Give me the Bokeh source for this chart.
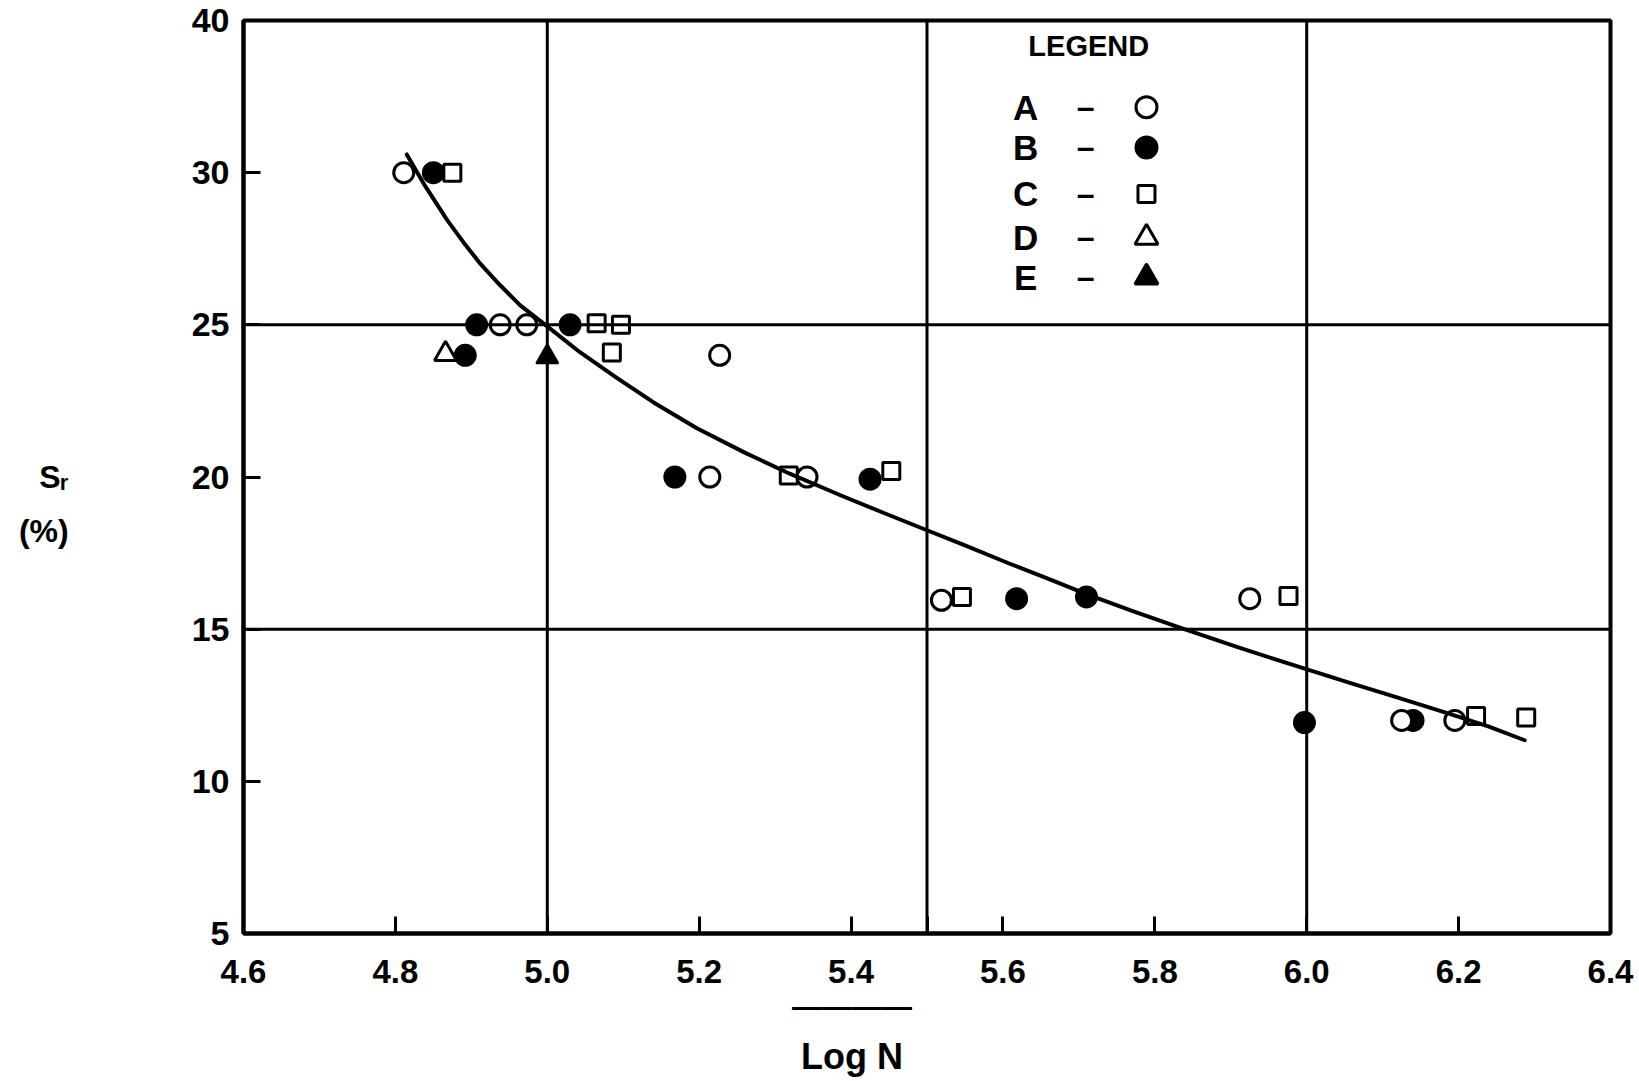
from bokeh.plotting import figure
from bokeh.models import Span, Label, FixedTicker, LinearAxis
from bokeh.embed import file_html
from bokeh.resources import INLINE

# ---------------- data ----------------
a_x = [4.811, 4.938, 4.973, 5.227, 5.214, 5.342, 5.519, 5.925, 6.125, 6.195]
a_y = [30.0, 25.0, 25.0, 24.0, 20.0, 20.0, 15.95, 16.0, 12.0, 12.0]

b_x = [4.850, 4.907, 5.030, 4.892, 5.168, 5.425, 5.618, 5.710, 5.997, 6.140]
b_y = [30.0, 25.0, 25.0, 24.0, 20.0, 19.93, 16.0, 16.06, 11.93, 12.0]

c_x = [4.875, 5.065, 5.097, 5.085, 5.318, 5.453, 5.546, 5.976, 6.223, 6.289]
c_y = [30.0, 25.05, 25.0, 24.09, 20.05, 20.2, 16.06, 16.09, 12.15, 12.1]

d_x = [4.866]
d_y = [24.04]

e_x = [5.000]
e_y = [23.95]

curve_x = [4.815, 4.837, 4.868, 4.890, 4.912, 4.938, 4.964, 5.000, 5.043, 5.092,
           5.140, 5.197, 5.260, 5.320, 5.386, 5.440, 5.495, 5.550, 5.609, 5.660,
           5.710, 5.770, 5.833, 5.910, 5.991, 6.061, 6.120, 6.184, 6.240, 6.287]
curve_y = [30.6, 29.65, 28.45, 27.7, 27.0, 26.3, 25.65, 24.95, 24.1, 23.25,
           22.45, 21.6, 20.8, 20.1, 19.4, 18.85, 18.3, 17.75, 17.15, 16.65,
           16.15, 15.6, 15.05, 14.4, 13.75, 13.2, 12.75, 12.25, 11.8, 11.35]

x_ticks = [4.6, 4.8, 5.0, 5.2, 5.4, 5.5, 5.6, 5.8, 6.0, 6.2, 6.4]
x_tick_labels = ["4.6", "4.8", "5.0", "5.2", "5.4", "", "5.6", "5.8", "6.0", "6.2", "6.4"]
y_ticks = [5, 10, 15, 20, 25, 30, 35]
y_tick_labels = ["5", "10", "15", "20", "25", "30", "40"]

grid_x = [5.0, 5.5, 6.0]
grid_y = [15, 25]

legend_names = ["A", "B", "C", "D", "E"]

x_title = "Log N"
y_title = "S\u1d63\n(%)"

# ---------------- figure ----------------
FONT = "Arial"
NBSP = "\u00a0"

p = figure(width=1639, height=1081, x_range=(4.6, 6.4), y_range=(5, 35),
           output_backend="svg", toolbar_location=None,
           min_border_left=243, min_border_right=29,
           min_border_top=20, min_border_bottom=148)
p.grid.visible = False
p.background_fill_color = "white"
p.border_fill_color = "white"
p.outline_line_color = "black"
p.outline_line_width = 4
p.outline_line_alpha = 1

for ax in (p.xaxis, p.yaxis):
    ax.axis_line_width = 4
    ax.axis_line_color = "black"
    ax.major_tick_line_width = 3
    ax.major_tick_line_color = "black"
    ax.major_tick_in = 17
    ax.major_tick_out = 0
    ax.minor_tick_line_color = None
    ax.major_label_text_font = FONT
    ax.major_label_text_font_style = "bold"
    ax.major_label_text_color = "black"
    ax.axis_label_text_font = FONT
    ax.axis_label_text_font_style = "bold"
    ax.axis_label_text_color = "black"

p.xaxis.ticker = FixedTicker(ticks=x_ticks, minor_ticks=[])
p.xaxis.major_label_overrides = dict(zip(x_ticks, x_tick_labels))
p.xaxis.major_label_text_font_size = "33px"
p.xaxis.major_label_standoff = 26
# overline of the x title, shifted left like the original
p.xaxis.axis_label = "\u2014" * 4 + NBSP * 18
p.xaxis.axis_label_text_font_size = "30px"
p.xaxis.axis_label_standoff = 4

p.yaxis.ticker = FixedTicker(ticks=y_ticks, minor_ticks=[])
p.yaxis.major_label_overrides = dict(zip(y_ticks, y_tick_labels))
p.yaxis.major_label_text_font_size = "34px"
p.yaxis.major_label_standoff = 14
p.yaxis.axis_label = NBSP + "\n" + y_title
p.yaxis.axis_label_orientation = "horizontal"
p.yaxis.axis_label_text_font_size = "32px"
p.yaxis.axis_label_text_line_height = 1.5
p.yaxis.axis_label_standoff = 120

# second (bare) bottom axis carrying "Log N"
ax2 = LinearAxis(ticker=FixedTicker(ticks=[]), axis_line_color=None,
                 major_tick_line_color=None, minor_tick_line_color=None,
                 major_label_text_font_size="0px", major_label_standoff=0,
                 axis_label=x_title + NBSP * 15, axis_label_standoff=10,
                 axis_label_text_font=FONT, axis_label_text_font_style="bold",
                 axis_label_text_font_size="36px", axis_label_text_color="black")
p.add_layout(ax2, "below")

for v in grid_x:
    p.add_layout(Span(location=v, dimension="height", line_color="black", line_width=3))
for v in grid_y:
    p.add_layout(Span(location=v, dimension="width", line_color="black", line_width=3))

# markers
p.scatter(b_x, b_y, marker="circle", size=21, fill_color="black", line_color="black", line_width=2)
p.scatter(a_x, a_y, marker="circle", size=20, fill_color="white", line_color="black", line_width=3)
p.scatter(c_x, c_y, marker="square", size=17, fill_color="white", line_color="black", line_width=3)
p.scatter(d_x, d_y, marker="triangle", size=22, fill_color="white", line_color="black", line_width=3)
p.scatter(e_x, e_y, marker="triangle", size=22, fill_color="black", line_color="black", line_width=2)

# fitted curve
p.line(curve_x, curve_y, line_color="black", line_width=4, line_join="round", line_cap="round")

# ---------------- legend ----------------
leg_letter_x, leg_dash_x, leg_sym_x = 5.630, 5.709, 5.789
leg_rows = [32.15, 30.83, 29.30, 27.87, 26.56]
p.add_layout(Label(x=5.713, y=34.17, text="LEGEND", text_font=FONT, text_font_style="bold",
                   text_color="black", text_font_size="29px",
                   text_align="center", text_baseline="middle"))
for name, yy in zip(legend_names, leg_rows):
    p.add_layout(Label(x=leg_letter_x, y=yy, text=name, text_font=FONT, text_font_style="bold",
                       text_color="black", text_font_size="35px",
                       text_align="center", text_baseline="middle"))
    p.add_layout(Label(x=leg_dash_x, y=yy, text="\u2013", text_font=FONT, text_font_style="bold",
                       text_color="black", text_font_size="32px",
                       text_align="center", text_baseline="middle"))
leg_markers = [("circle", "white"), ("circle", "black"), ("square", "white"),
               ("triangle", "white"), ("triangle", "black")]
for (mk, fc), yy in zip(leg_markers, leg_rows):
    size = 21 if mk == "circle" else (17 if mk == "square" else 23)
    p.scatter([leg_sym_x], [yy], marker=mk, size=size, fill_color=fc, line_color="black", line_width=3)

open("out.html", "w").write(file_html(p, INLINE))
